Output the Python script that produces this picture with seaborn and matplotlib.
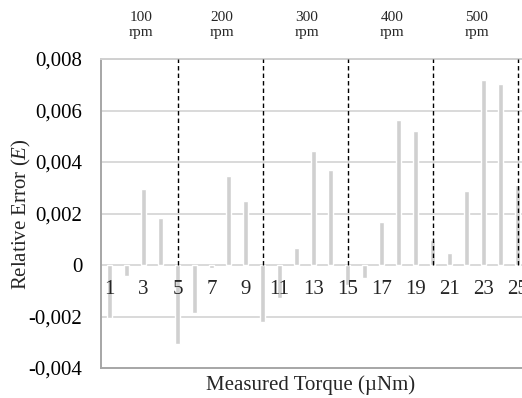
import matplotlib
matplotlib.use("Agg")
import matplotlib.pyplot as plt
import matplotlib.transforms as mtransforms
import seaborn as sns
import pandas as pd

# Relative error for each measured torque step (µNm), five speed groups
torque = list(range(1, 26))
rel_error = [-0.00207, -0.00041, 0.00297, 0.00183, -0.00306,
             -0.00187, -0.00010, 0.00346, 0.00249, -0.00223,
             -0.00129, 0.00065, 0.00441, 0.00368, -0.00077,
             -0.00049, 0.00166, 0.00565, 0.00519, 0.00097,
             0.00048, 0.00288, 0.00718, 0.00702, 0.00310]
speed_groups = ["100\nrpm", "200\nrpm", "300\nrpm", "400\nrpm", "500\nrpm"]
group_ends = [5, 10, 15, 20, 25]
y_ticks = [-0.004, -0.002, 0.0, 0.002, 0.004, 0.006, 0.008]
y_tick_labels = ["-0,004", "-0,002", "0", "0,002", "0,004", "0,006", "0,008"]

df = pd.DataFrame({"torque": torque, "error": rel_error})

sns.set_theme(style="white")
plt.rcParams["font.family"] = ["Liberation Serif", "DejaVu Serif"]
plt.rcParams["mathtext.fontset"] = "custom"
plt.rcParams["mathtext.it"] = "Liberation Serif:italic"
plt.rcParams["mathtext.rm"] = "Liberation Serif"

fig = plt.figure(figsize=(5.22, 3.98), dpi=100)
W, H = 522, 398
ax = fig.add_axes([101 / W, 1 - 368 / H, 425 / W, 309 / H])
ax.set_clip_on(False)

sns.barplot(data=df, x="torque", y="error", color="#d0d0d0",
            width=0.31, ax=ax, saturation=1)

ax.set_xlim(-0.5, len(torque) - 0.5)
ax.set_ylim(y_ticks[0], y_ticks[-1])
ax.set_yticks(y_ticks)
ax.set_yticklabels(y_tick_labels)
ax.tick_params(axis="y", length=0, pad=13.5, labelsize=15, colors="black")
ax.set_xticks([])
ax.set_xlabel("")
ax.set_ylabel("")

# horizontal gridlines
for yv in y_ticks[1:]:
    ax.axhline(yv, color="#d9d9d9", lw=1.4, zorder=0)

for side in ["left", "bottom", "top"]:
    ax.spines[side].set_color("#a6a6a6")
    ax.spines[side].set_linewidth(1.4)
ax.spines["top"].set_color("#d0d0d0")
ax.spines["right"].set_visible(False)

# odd category labels just under the zero line
for i, t in enumerate(torque):
    if t % 2 == 1:
        ax.text(i, -0.00095, str(t), ha="center", va="center", fontsize=15)

# dashed separators between speed groups
for e in group_ends:
    ax.vlines(e - 1, 0, y_ticks[-1], colors="black", linestyles=(0, (3.2, 2.2)),
              lw=1.0, zorder=3)

# speed group labels above the plot
trans = mtransforms.blended_transform_factory(ax.transData, ax.transAxes)
starts = [-0.5] + [e - 1 for e in group_ends[:-1]]
for lab, s, e in zip(speed_groups, starts, group_ends):
    ax.text((s + e - 1) / 2 + 0.1, 1.11, lab, transform=trans, ha="center",
            va="center", fontsize=11, linespacing=1.25)

fig.text(311 / W, 1 - 385 / H, "Measured Torque (µNm)", ha="center",
         va="center", fontsize=15)
fig.text(21 / W, 1 - 214 / H, r"Relative Error ($E$)", ha="center",
         va="center", rotation=90, fontsize=15)

fig.savefig("out.png", dpi=100)
